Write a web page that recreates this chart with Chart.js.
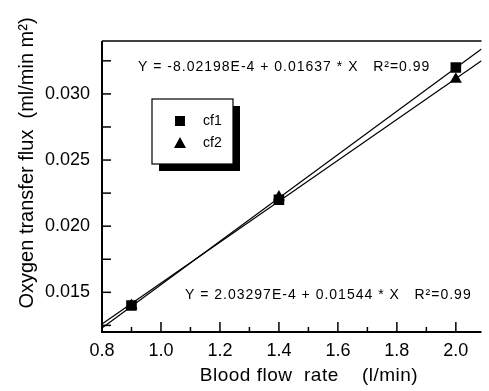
<!DOCTYPE html>
<html>
<head>
<meta charset="utf-8">
<script src="https://cdn.jsdelivr.net/npm/chart.js@4.4.0/dist/chart.umd.min.js"></script>
<style>
    html, body { margin: 0; padding: 0; background: #fff; }
    #wrap { width: 489px; height: 391px; }
</style>
</head>
<body>
<div id="wrap"><canvas id="fluxChart" width="489" height="391"></canvas></div>
<script>
// ---- data ----
const flowRate = [0.9, 1.4, 2.0];
const cf1 = [0.0140, 0.0220, 0.0320];
const cf2 = [0.0140, 0.0222, 0.0311];

// end points of the two fitted lines
const fitX = [0.8, 2.087];
const fit1Y = [0.0123, 0.0334];
const fit2Y = [0.0126, 0.0325];

const xRange = [0.8, 2.087];
const yRange = [0.012, 0.034];

const eq1 = 'Y = -8.02198E-4 + 0.01637 * X   R\u00B2=0.99';
const eq2 = 'Y = 2.03297E-4 + 0.01544 * X   R\u00B2=0.99';
const xTitle = 'Blood flow  rate    (l/min)';
const yTitle = 'Oxygen transfer flux  (ml/min m\u00B2)';

const FONT = "'Liberation Sans', Arial, Helvetica, sans-serif";

function toPoints(xs, ys) {
    return xs.map(function(x, i) { return { x: x, y: ys[i] }; });
}

function isMajorX(v) { return Math.round(v * 10) % 2 === 0; }
function isMajorY(v) { return Math.round(v * 2000) % 10 === 0; }

// frame, inward ticks, texts and the legend box
const decorations = {
    id: 'decorations',
    afterDraw: function(chart) {
        const ctx = chart.ctx;
        const area = chart.chartArea;
        const xs = chart.scales.x;
        const ys = chart.scales.y;

        ctx.save();
        ctx.strokeStyle = '#000';

        // frame (no right edge, it is cut off)
        ctx.lineWidth = 2;
        ctx.beginPath();
        ctx.moveTo(area.right, area.bottom);
        ctx.lineTo(area.left, area.bottom);
        ctx.lineTo(area.left, area.top);
        ctx.stroke();
        ctx.lineWidth = 1.5;
        ctx.beginPath();
        ctx.moveTo(area.left, area.top);
        ctx.lineTo(area.right, area.top);
        ctx.stroke();

        // ticks pointing inward
        ctx.lineWidth = 1.5;
        xs.ticks.forEach(function(t) {
            const px = xs.getPixelForValue(t.value);
            const len = isMajorX(t.value) ? 10 : 5;
            ctx.beginPath();
            ctx.moveTo(px, area.bottom);
            ctx.lineTo(px, area.bottom - len);
            ctx.stroke();
        });
        ys.ticks.forEach(function(t) {
            const py = ys.getPixelForValue(t.value);
            ctx.beginPath();
            ctx.moveTo(area.left, py);
            ctx.lineTo(area.left + 9, py);
            ctx.stroke();
        });

        // axis titles
        ctx.fillStyle = '#000';
        ctx.font = '19px ' + FONT;
        ctx.textAlign = 'center';
        ctx.textBaseline = 'middle';
        ctx.letterSpacing = '0.5px';
        ctx.fillText(xTitle, 309, 376);
        ctx.letterSpacing = '0px';

        ctx.save();
        ctx.translate(27, 163);
        ctx.rotate(-Math.PI / 2);
        ctx.font = '20px ' + FONT;
        ctx.fillText(yTitle, 0, 0);
        ctx.restore();

        // regression equations
        ctx.font = '14px ' + FONT;
        ctx.letterSpacing = '1px';
        ctx.textAlign = 'left';
        ctx.fillText(eq1, 138, 67);
        ctx.fillText(eq2, 185, 295);
        ctx.letterSpacing = '0px';

        // legend box with drop shadow
        const bx = 152, by = 99, bw = 81, bh = 65;
        ctx.fillRect(bx + 7, by + 7, bw, bh);
        ctx.fillStyle = '#fff';
        ctx.fillRect(bx, by, bw, bh);
        ctx.lineWidth = 1.2;
        ctx.strokeRect(bx, by, bw, bh);

        ctx.fillStyle = '#000';
        ctx.fillRect(180 - 5, 121 - 5, 10, 10);
        ctx.beginPath();
        ctx.moveTo(180, 143 - 6);
        ctx.lineTo(180 + 6, 143 + 5);
        ctx.lineTo(180 - 6, 143 + 5);
        ctx.closePath();
        ctx.fill();

        ctx.font = '14px ' + FONT;
        ctx.fillText('cf1', 203, 121);
        ctx.fillText('cf2', 203, 143);

        ctx.restore();
    }
};

const ctx = document.getElementById('fluxChart').getContext('2d');
new Chart(ctx, {
    type: 'scatter',
    data: {
        datasets: [
            {
                type: 'line',
                label: 'fit cf1',
                data: toPoints(fitX, fit1Y),
                borderColor: '#000',
                borderWidth: 1.2,
                pointRadius: 0,
                fill: false
            },
            {
                type: 'line',
                label: 'fit cf2',
                data: toPoints(fitX, fit2Y),
                borderColor: '#000',
                borderWidth: 1.2,
                pointRadius: 0,
                fill: false
            },
            {
                label: 'cf1',
                data: toPoints(flowRate, cf1),
                pointStyle: 'rect',
                pointRadius: 7.5,
                backgroundColor: '#000',
                borderColor: '#000',
                borderWidth: 0
            },
            {
                label: 'cf2',
                data: toPoints(flowRate, cf2),
                pointStyle: 'triangle',
                pointRadius: 7,
                backgroundColor: '#000',
                borderColor: '#000',
                borderWidth: 0
            }
        ]
    },
    options: {
        responsive: false,
        animation: false,
        devicePixelRatio: 1,
        layout: { padding: { top: 41, right: 0, left: 0, bottom: 0 } },
        plugins: {
            legend: { display: false },
            tooltip: { enabled: false }
        },
        scales: {
            x: {
                type: 'linear',
                min: xRange[0],
                max: xRange[1],
                afterFit: function(scale) { scale.height = 59; },
                grid: { display: false, drawTicks: false },
                border: { display: false },
                ticks: {
                    stepSize: 0.1,
                    includeBounds: false,
                    autoSkip: false,
                    maxRotation: 0,
                    padding: 8,
                    color: '#000',
                    font: { family: FONT, size: 18 },
                    callback: function(value) {
                        return isMajorX(value) ? value.toFixed(1) : '';
                    }
                }
            },
            y: {
                type: 'linear',
                min: yRange[0],
                max: yRange[1],
                afterFit: function(scale) { scale.width = 102; },
                grid: { display: false, drawTicks: false },
                border: { display: false },
                ticks: {
                    stepSize: 0.0025,
                    includeBounds: false,
                    autoSkip: false,
                    padding: 12,
                    color: '#000',
                    font: { family: FONT, size: 18 },
                    callback: function(value) {
                        return isMajorY(value) ? value.toFixed(3) : '';
                    }
                }
            }
        }
    },
    plugins: [decorations]
});
</script>
</body>
</html>
